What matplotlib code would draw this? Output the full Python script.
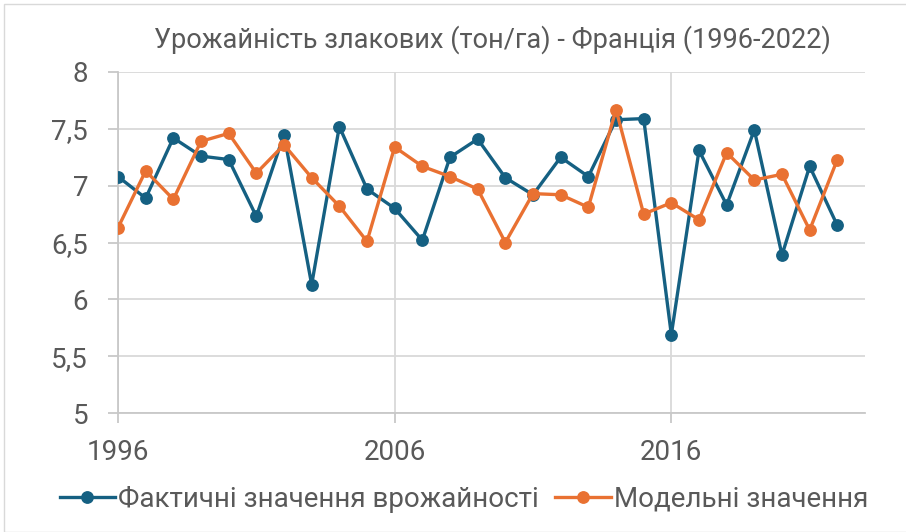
import matplotlib
matplotlib.use("Agg")
import matplotlib.pyplot as plt
from matplotlib.ticker import FuncFormatter, MultipleLocator, FixedLocator
from matplotlib.patches import Rectangle

plt.rcParams['font.family'] = ['Roboto', 'DejaVu Sans']

years = list(range(1996, 2023))
year_ticks = [1996, 2006, 2016]

# фактичні значення врожайності (тон/га)
actual = [7.08, 6.89, 7.42, 7.26, 7.23, 6.73, 7.45, 6.13, 7.52, 6.97,
          6.80, 6.52, 7.25, 7.41, 7.07, 6.92, 7.25, 7.08, 7.58, 7.59,
          5.69, 7.31, 6.83, 7.49, 6.39, 7.17, 6.65]

# модельні значення
model = [6.63, 7.13, 6.88, 7.39, 7.46, 7.11, 7.36, 7.07, 6.82, 6.51,
         7.34, 7.17, 7.08, 6.97, 6.50, 6.93, 6.92, 6.81, 7.67, 6.75,
         6.85, 6.70, 7.29, 7.05, 7.10, 6.61, 7.23]

title = 'Урожайність злакових (тон/га) - Франція (1996-2022)'
label_actual = 'Фактичні значення врожайності'
label_model = 'Модельні значення'

blue = '#156082'
orange = '#E97132'
grey_txt = '#595959'
grid_col = '#d9d9d9'

fig = plt.figure(figsize=(9.06, 5.32), dpi=100)
ax = fig.add_axes([118 / 906, 1 - 413 / 532, 747 / 906, 341 / 532])

# рамка діаграми
fig.patches.append(Rectangle((4 / 906, 0), 1, 1 - 4 / 532, transform=fig.transFigure,
                             fill=False, edgecolor='#d9d9d9', lw=1))

ax.plot(years, actual, color=blue, lw=2.4, marker='o', ms=8.2, label=label_actual, zorder=3)
ax.plot(years, model, color=orange, lw=2.4, marker='o', ms=8.2, label=label_model, zorder=4)

ax.set_xlim(1996, 2023)
ax.set_ylim(5, 8)
ax.xaxis.set_major_locator(FixedLocator(year_ticks))
ax.yaxis.set_major_locator(MultipleLocator(0.5))
ax.yaxis.set_major_formatter(FuncFormatter(lambda v, p: f'{v:g}'.replace('.', ',')))

ax.grid(True, color=grid_col, lw=1.3)
ax.set_axisbelow(True)
for s in ['top', 'right']:
    ax.spines[s].set_visible(False)
for s in ['left', 'bottom']:
    ax.spines[s].set_color('#c8c8c8')
    ax.spines[s].set_linewidth(1.3)
ax.tick_params(axis='both', colors='#c8c8c8', labelcolor=grey_txt, labelsize=20,
               length=7.5, width=1.3)
ax.tick_params(axis='y', pad=14)
ax.tick_params(axis='x', pad=11)

fig.text(0.544, 0.925, title, ha='center', va='center', fontsize=19.5, color=grey_txt)

fig.legend(loc='center', bbox_to_anchor=(0.512, 0.062), ncol=2, frameon=False,
           fontsize=20, labelcolor=grey_txt, handlelength=2.0, handletextpad=0.1,
           columnspacing=0.6)

fig.savefig('out.png', dpi=100)
